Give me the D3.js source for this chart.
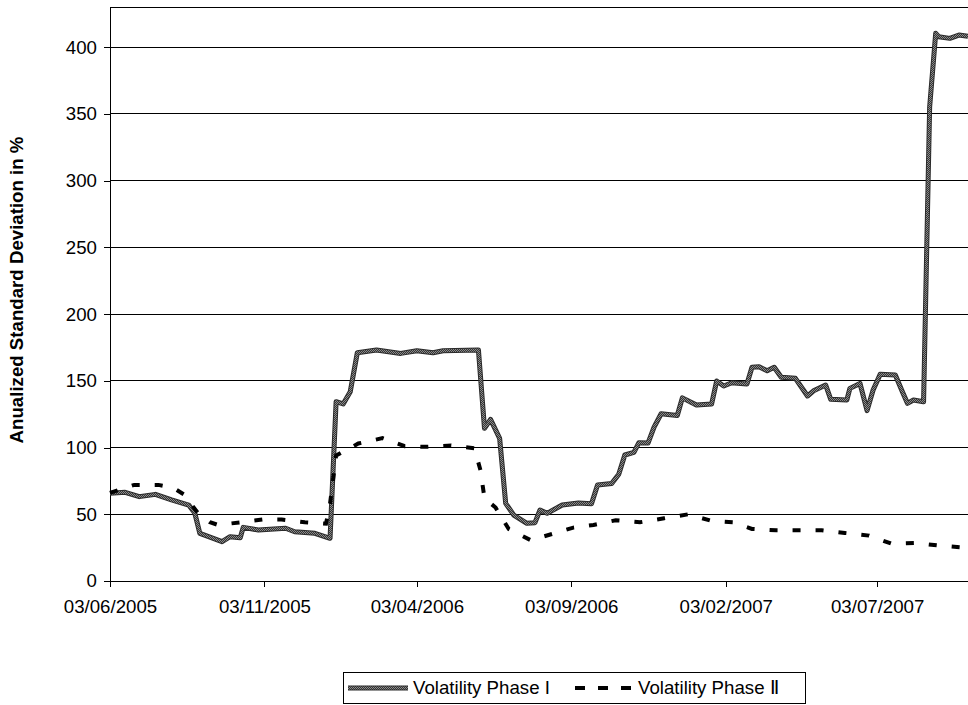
<!DOCTYPE html>
<html>
<head>
<meta charset="utf-8">
<script src="https://cdn.jsdelivr.net/npm/d3@7"></script>
<style>
  html, body { margin: 0; padding: 0; background: #fff; }
  svg { display: block; font-family: "Liberation Sans", Arial, sans-serif; }
</style>
</head>
<body>
<svg id="chart" width="968" height="705"></svg>
<script>
// Weekly-ish volatility readings, Phase I
const phase1Dates = ["2005-06-03","2005-06-18","2005-07-02","2005-07-18","2005-08-03","2005-08-20","2005-08-26","2005-08-31","2005-09-22","2005-09-30","2005-10-10","2005-10-13","2005-10-28","2005-11-24","2005-12-03","2005-12-23","2006-01-07","2006-01-13","2006-01-20","2006-01-27","2006-02-03","2006-02-22","2006-03-18","2006-04-03","2006-04-19","2006-04-29","2006-06-03","2006-06-09","2006-06-15","2006-06-24","2006-06-30","2006-07-08","2006-07-21","2006-07-29","2006-08-03","2006-08-10","2006-08-25","2006-09-10","2006-09-23","2006-09-29","2006-10-13","2006-10-20","2006-10-26","2006-11-04","2006-11-09","2006-11-18","2006-11-24","2006-12-01","2006-12-17","2006-12-22","2007-01-05","2007-01-20","2007-01-25","2007-02-01","2007-02-09","2007-02-24","2007-03-01","2007-03-08","2007-03-16","2007-03-23","2007-03-30","2007-04-13","2007-04-25","2007-05-01","2007-05-13","2007-05-18","2007-06-03","2007-06-06","2007-06-16","2007-06-23","2007-06-29","2007-07-06","2007-07-21","2007-07-28","2007-08-02","2007-08-08","2007-08-18","2007-08-24","2007-08-30","2007-09-02","2007-09-13","2007-09-22","2007-10-01"];
const phase1Values = [65.7,66.4,63.2,64.9,60.7,56.9,50.9,35.7,29.5,33.2,32.4,40.2,38.2,39.5,36.9,35.7,32.0,134.3,132.6,141.8,171.0,173.0,170.5,172.5,171.0,172.5,173.0,114.4,121.1,106.9,58.2,49.4,43.2,43.7,53.2,50.7,56.9,58.5,57.9,71.9,73.0,80.0,94.4,96.3,103.6,103.3,115.3,125.3,124.0,137.2,131.8,132.6,149.8,146.1,148.5,147.6,160.1,160.5,157.5,160.1,152.6,151.8,138.6,142.5,146.8,136.1,135.6,144.3,148.0,127.6,143.1,154.8,154.3,141.8,133.1,135.6,134.3,355,410.3,407.7,406.5,409,408];

// Phase II readings
const phase2Dates = ["2005-06-03","2005-06-27","2005-07-21","2005-08-04","2005-08-15","2005-08-30","2005-09-10","2005-09-18","2005-10-11","2005-11-01","2005-11-20","2005-12-13","2006-01-03","2006-01-07","2006-01-10","2006-01-13","2006-02-04","2006-02-28","2006-03-22","2006-04-13","2006-05-07","2006-05-30","2006-06-05","2006-06-09","2006-06-20","2006-07-03","2006-07-25","2006-08-14","2006-09-05","2006-09-25","2006-10-17","2006-11-10","2006-12-04","2006-12-28","2007-01-20","2007-02-10","2007-03-01","2007-03-25","2007-04-16","2007-05-09","2007-06-01","2007-06-25","2007-07-17","2007-08-10","2007-09-03","2007-09-27","2007-10-01"];
const phase2Values = [66,72,72,70,65,50,44,42,44,46,46,44,43,58,76,94,103,107,101,100.5,101.5,99.5,83,62,55,39,30.5,35,40,42,45.5,44,47,50,45,44,39,38,38,38,36,34,28,28.5,26.5,25,26];

const xTickDates = ["2005-06-03","2005-11-03","2006-04-03","2006-09-03","2007-02-03","2007-07-03"];
const yTickValues = [0,50,100,150,200,250,300,350,400];
const seriesNames = ["Volatility Phase I", "Volatility Phase \u2161"];
const yAxisTitle = "Anualized Standard Deviation in %";
const xDomain = ["2005-06-03", "2007-10-01"];
const yDomain = [0, 430];

const parse = d3.timeParse("%Y-%m-%d");
const fmt = d3.timeFormat("%d/%m/%Y");
const svg = d3.select("#chart");
const plot = { left: 110, right: 968, top: 7, bottom: 581 };
const fontSize = 18.67;

const x = d3.scaleTime().domain(xDomain.map(parse)).range([plot.left, plot.right]);
const y = d3.scaleLinear().domain(yDomain).range([plot.bottom, plot.top]);

// textured stroke for the Phase I line
const defs = svg.append("defs");
const pat = defs.append("pattern").attr("id", "tex").attr("patternUnits", "userSpaceOnUse")
  .attr("width", 2).attr("height", 2);
pat.append("rect").attr("width", 2).attr("height", 2).attr("fill", "#333");
pat.append("rect").attr("x", 0).attr("y", 0).attr("width", 1).attr("height", 1).attr("fill", "#8c8c8c");
pat.append("rect").attr("x", 1).attr("y", 1).attr("width", 1).attr("height", 1).attr("fill", "#8c8c8c");

// gridlines
svg.append("g").selectAll("line").data(yTickValues.filter(v => v > 0)).join("line")
  .attr("x1", plot.left).attr("x2", plot.right)
  .attr("y1", d => y(d)).attr("y2", d => y(d))
  .attr("stroke", "#000").attr("stroke-width", 1).attr("shape-rendering", "crispEdges");

// top frame
svg.append("line").attr("x1", plot.left).attr("x2", plot.right)
  .attr("y1", y(yDomain[1])).attr("y2", y(yDomain[1]))
  .attr("stroke", "#000").attr("shape-rendering", "crispEdges");

// y axis
const yAxis = svg.append("g").attr("transform", `translate(${plot.left},0)`)
  .call(d3.axisLeft(y).tickValues(yTickValues).tickSize(6).tickPadding(7).tickSizeOuter(0));
yAxis.select(".domain").attr("stroke", "#000").attr("shape-rendering", "crispEdges");
yAxis.selectAll(".tick line").attr("stroke", "#000").attr("shape-rendering", "crispEdges");
yAxis.selectAll("text").attr("font-size", fontSize).attr("font-family", "Liberation Sans, Arial, sans-serif").attr("fill", "#000");

// x axis
const xAxis = svg.append("g").attr("transform", `translate(0,${plot.bottom})`)
  .call(d3.axisBottom(x).tickValues(xTickDates.map(parse)).tickFormat(fmt).tickSize(6).tickPadding(13).tickSizeOuter(0));
xAxis.select(".domain").attr("stroke", "#000").attr("shape-rendering", "crispEdges");
xAxis.selectAll(".tick line").attr("stroke", "#000").attr("shape-rendering", "crispEdges");
xAxis.selectAll("text").attr("font-size", fontSize).attr("font-family", "Liberation Sans, Arial, sans-serif").attr("fill", "#000");

// y axis title
svg.append("text")
  .attr("transform", `translate(23,290) rotate(-90)`)
  .attr("text-anchor", "middle")
  .attr("font-size", fontSize).attr("font-weight", "bold").attr("fill", "#000")
  .text(yAxisTitle);

const line = d3.line().x(d => x(d.date)).y(d => y(d.value));
const s1 = phase1Dates.map((d, i) => ({ date: parse(d), value: phase1Values[i] }));
const s2 = phase2Dates.map((d, i) => ({ date: parse(d), value: phase2Values[i] }));

svg.append("path").datum(s1).attr("d", line)
  .attr("fill", "none").attr("stroke", "#2a2a2a").attr("stroke-width", 5).attr("stroke-linejoin", "round");
svg.append("path").datum(s1).attr("d", line)
  .attr("fill", "none").attr("stroke", "url(#tex)").attr("stroke-width", 3).attr("stroke-linejoin", "round");

svg.append("path").datum(s2).attr("d", line)
  .attr("fill", "none").attr("stroke", "#000").attr("stroke-width", 4)
  .attr("stroke-dasharray", "8,15").attr("stroke-linecap", "butt");

// legend
const lg = svg.append("g");
lg.append("rect").attr("x", 343.5).attr("y", 672.5).attr("width", 462).attr("height", 31)
  .attr("fill", "#fff").attr("stroke", "#000").attr("stroke-width", 1);
const ly = 688;
lg.append("line").attr("x1", 348).attr("x2", 408).attr("y1", ly).attr("y2", ly)
  .attr("stroke", "#2a2a2a").attr("stroke-width", 5);
lg.append("line").attr("x1", 348).attr("x2", 408).attr("y1", ly).attr("y2", ly)
  .attr("stroke", "url(#tex)").attr("stroke-width", 3);
lg.append("text").attr("x", 413).attr("y", 694).attr("font-size", fontSize).attr("fill", "#000").text(seriesNames[0]);
lg.append("line").attr("x1", 575).attr("x2", 632).attr("y1", ly).attr("y2", ly)
  .attr("stroke", "#000").attr("stroke-width", 4).attr("stroke-dasharray", "10,13");
lg.append("text").attr("x", 638).attr("y", 694).attr("font-size", fontSize).attr("fill", "#000").text(seriesNames[1]);
</script>
</body>
</html>
